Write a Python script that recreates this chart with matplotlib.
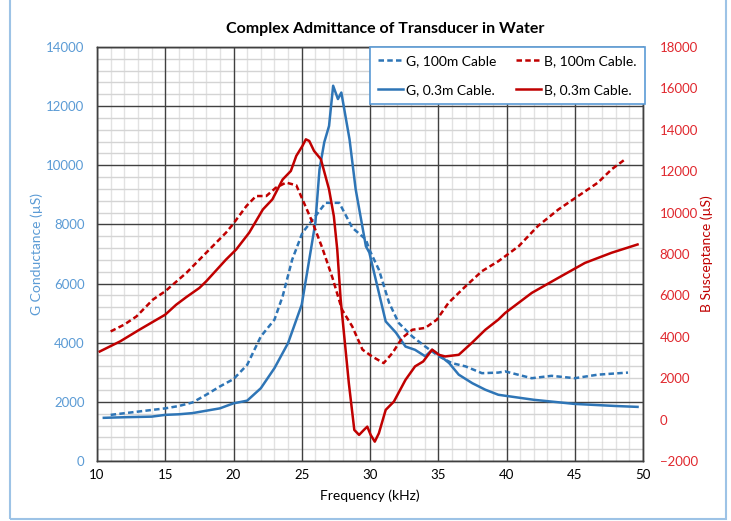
import matplotlib
matplotlib.use("Agg")
import matplotlib.pyplot as plt
from matplotlib.patches import Rectangle
from matplotlib.ticker import MultipleLocator

plt.rcParams['font.family'] = ['Lato', 'DejaVu Sans']

# data
f_g03 = [10.5, 12, 14, 15, 16, 17, 18, 19, 20, 21, 22, 23, 24, 25, 25.55, 26, 26.3, 26.65,
         27.0, 27.3, 27.65, 27.9, 28.5, 28.95, 29.7, 29.95, 30.65, 31.15, 31.9, 32.6, 33.3,
         34.05, 34.55, 35.05, 35.8, 36.5, 37.5, 38.45, 39.4, 40, 42, 45, 48, 49.6]
g_03 = [1460, 1480, 1500, 1560, 1580, 1620, 1700, 1780, 1950, 2040, 2460, 3140, 3990, 5290,
        6810, 8070, 9860, 10780, 11330, 12690, 12240, 12460, 10880, 9190, 7260, 7050, 5690,
        4720, 4340, 3870, 3760, 3540, 3760, 3590, 3310, 2920, 2630, 2410, 2240, 2200, 2070,
        1930, 1860, 1830]

f_g100 = [11, 13, 15, 16, 17, 18, 19, 20, 21, 22, 23, 23.6, 24.3, 25.05, 26.0, 26.75, 27.75,
          28.7, 29.7, 29.95, 30.65, 31.4, 32.1, 33.1, 34.05, 35.05, 36.0, 37.0, 38.2, 39.4,
          39.9, 41.85, 43.3, 45.0, 46.7, 48.9]
g_100 = [1560, 1670, 1780, 1860, 1980, 2240, 2520, 2770, 3250, 4210, 4780, 5570, 6810, 7720,
         8280, 8730, 8730, 7890, 7490, 7150, 6470, 5350, 4670, 4210, 3870, 3540, 3310, 3200,
         2970, 2990, 3030, 2800, 2880, 2800, 2920, 2990]

f_b100 = [11, 12, 12.9, 14.1, 15, 16.55, 18.0, 19.45, 19.95, 20.95, 21.65, 22.4, 23.1, 23.85,
          24.6, 25.05, 25.8, 26.5, 27.25, 27.95, 28.7, 29.45, 30.15, 31.0, 31.65, 32.35, 33.1,
          34.05, 34.9, 35.75, 37.0, 38.2, 39.4, 39.9, 40.9, 42.3, 43.8, 45.25, 46.7, 47.7, 48.7]
b_100 = [4260, 4590, 4990, 5800, 6200, 7090, 8060, 9030, 9430, 10320, 10800, 10800, 11200,
         11450, 11320, 10640, 9510, 8300, 6850, 5310, 4500, 3380, 3050, 2730, 3220, 3940, 4340,
         4430, 4830, 5640, 6440, 7170, 7650, 7890, 8380, 9350, 10150, 10800, 11450, 12090, 12580]

f_b03 = [10.2, 11.7, 13.1, 15, 15.8, 16.55, 17.5, 18.0, 19.45, 20.2, 21.15, 22.15, 22.85, 23.6,
         24.2, 24.6, 25.05, 25.3, 25.55, 25.9, 26.4, 27.0, 27.35, 27.6, 27.85, 28.45, 28.85,
         29.2, 29.55, 29.8, 30.05, 30.35, 30.65, 31.15, 31.75, 32.6, 33.3, 33.9, 34.55, 35.05,
         35.5, 36.5, 37.45, 38.45, 39.4, 39.9, 41.85, 43.8, 45.75, 47.7, 49.6]
b_03 = [3290, 3780, 4340, 5070, 5550, 5920, 6360, 6680, 7730, 8220, 9030, 10150, 10640, 11600,
        12010, 12740, 13220, 13540, 13460, 12980, 12580, 11120, 9830, 8220, 5800, 1760, -500,
        -740, -500, -340, -740, -1065, -660, 470, 870, 1920, 2570, 2810, 3380, 3130, 3050, 3130,
        3700, 4340, 4830, 5150, 6120, 6850, 7570, 8060, 8460]

blue = '#2E75B6'
red = '#C00000'

fig = plt.figure(figsize=(7.31, 5.21), dpi=100)
ax = fig.add_axes([97 / 731, 1 - 461 / 521, 546 / 731, 414 / 521])
ax2 = ax.twinx()

ax.set_xlim(10, 50)
ax.set_ylim(0, 14000)
ax2.set_ylim(-2000, 18000)
ax.xaxis.set_major_locator(MultipleLocator(5))
ax.xaxis.set_minor_locator(MultipleLocator(1))
ax.yaxis.set_major_locator(MultipleLocator(2000))
ax.yaxis.set_minor_locator(MultipleLocator(400))
ax2.yaxis.set_major_locator(MultipleLocator(2000))

# light minor grid, then dark major lines on top of it
ax.grid(which='minor', axis='x', color='#E2E2E2', lw=1)
ax.grid(which='minor', axis='y', color='#D4D4D4', lw=1)
ax.set_axisbelow(True)
for xv in ax.get_xticks():
    ax.axvline(xv, color='#404040', lw=1, zorder=0.8)
for yv in ax.get_yticks():
    ax.axhline(yv, color='#404040', lw=1, zorder=0.8)
for a in (ax, ax2):
    for s in a.spines.values():
        s.set_color('#404040')
        s.set_linewidth(1)
ax.tick_params(which='both', length=0)
ax2.tick_params(which='both', length=0)
ax.tick_params(axis='x', labelsize=9.5, pad=6)
ax.tick_params(axis='y', labelsize=9.5, labelcolor='#5B9BD5', pad=9)
ax2.tick_params(axis='y', labelsize=9.5, labelcolor='#E0282E', pad=12)

l1, = ax.plot(f_g100, g_100, color=blue, lw=1.8, ls=(0, (2.2, 1.3)), label='G, 100m Cable')
l2, = ax.plot(f_g03, g_03, color=blue, lw=1.8, label='G, 0.3m Cable.')
l3, = ax2.plot(f_b100, b_100, color=red, lw=1.8, ls=(0, (2.2, 1.3)), label='B, 100m Cable.')
l4, = ax2.plot(f_b03, b_03, color=red, lw=1.8, label='B, 0.3m Cable.')

ax.set_xlabel('Frequency (kHz)', fontsize=10, labelpad=6)
ax.set_ylabel('G Conductance (µS)', fontsize=10, color='#5B9BD5', labelpad=2)
ax2.set_ylabel('B Susceptance (µS)', fontsize=10, color=red, labelpad=2)

fig.suptitle('Complex Admittance of Transducer in Water', fontsize=11.5,
             fontweight='bold', x=385 / 731, y=0.957)

leg = ax2.legend(handles=[l1, l2, l3, l4], ncol=2, loc='upper left',
                 bbox_to_anchor=(370 / 731, 1 - 104 / 521, 275 / 731, 57 / 521),
                 bbox_transform=fig.transFigure, mode='expand', fontsize=10,
                 frameon=True, fancybox=False, framealpha=1, edgecolor='#5B9BD5',
                 handlelength=1.8, handletextpad=0.2, columnspacing=0.6,
                 borderaxespad=0, borderpad=0.6, labelspacing=1.2)
leg.get_frame().set_linewidth(1.2)

# chart border
fig.patches.append(Rectangle((10 / 731, 2 / 521), 716 / 731, 1.2, transform=fig.transFigure,
                             fill=False, edgecolor='#9DC3E6', lw=1.5))

fig.savefig('out.png', dpi=100)
